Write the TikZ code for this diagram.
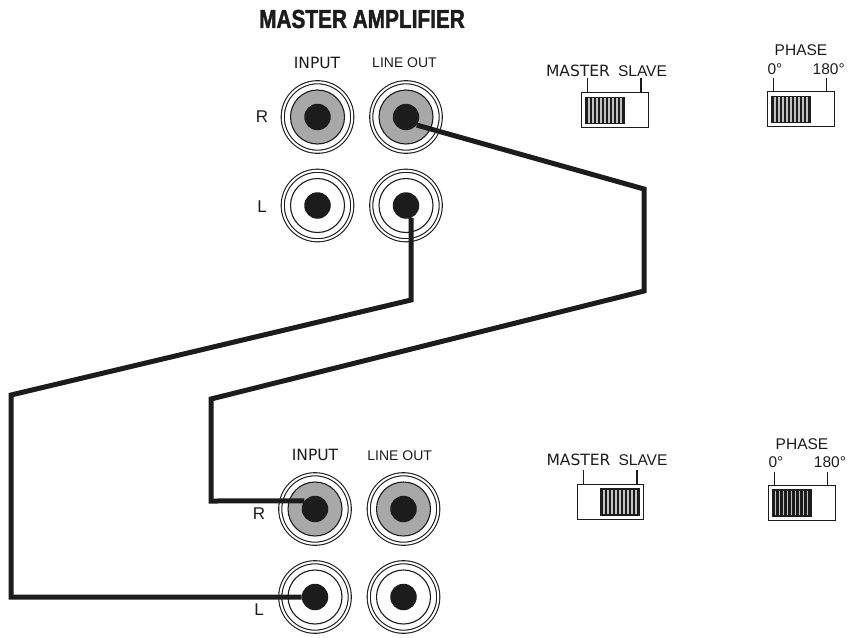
\documentclass[tikz,border=0pt]{standalone}
\usepackage{fontspec}
\setmainfont{Liberation Sans}
\newfontfamily\labelfont{DejaVu Sans}
\newfontfamily\titlefont[FakeStretch=0.8,FakeBold=1.5]{Liberation Sans}
\usetikzlibrary{positioning,calc}

\definecolor{jackgray}{gray}{0.66}
\definecolor{inkblack}{gray}{0.11}

\tikzset{
	jackouter/.style={draw=inkblack, circle, fill=white, line width=1.1pt, inner sep=0pt, minimum size=69.5pt, double=white, double distance=2pt},
	jackinner/.style={draw=inkblack, circle, fill=white, line width=1.1pt, inner sep=0pt, minimum size=54pt},
	jackgrey/.style={jackinner, fill=jackgray},
	jackhole/.style={circle, fill=inkblack, inner sep=0pt, minimum size=26.5pt},
	caseframe/.style={draw=inkblack, line width=0.8pt, minimum width=66.5pt, minimum height=35pt, inner sep=0pt},
	slider/.style={draw=inkblack, line width=1.6pt, fill=jackgray!70, minimum width=38.5pt, minimum height=26pt, inner sep=0pt,
		path picture={\foreach \i in {0,...,9} {
			\fill[inkblack] ($(path picture bounding box.south west)+(\i*4pt,0)$) rectangle +(2.1pt,27pt);
		}}},
	tick/.style={draw=inkblack, line width=1.1pt},
	wire/.style={draw=inkblack, line width=5pt, line join=miter},
	jacklabel/.style={text=inkblack, font=\labelfont\fontsize{15.5}{16}\selectfont, inner sep=0pt},
	slavelabel/.style={text=inkblack, font=\fontsize{15.5}{16}\selectfont, inner sep=0pt},
	outlabel/.style={text=inkblack, font=\fontsize{14}{16}\selectfont, inner sep=0pt},
	textlabel/.style={text=inkblack, font=\fontsize{15.5}{16}\selectfont, inner sep=0pt},
	sidelabel/.style={text=inkblack, font=\fontsize{17}{18}\selectfont, inner sep=0pt}
}

\begin{document}
\begin{tikzpicture}[x=1pt,y=-1pt]
	\useasboundingbox (0,0) rectangle (851,637);

	\node[text=inkblack, inner sep=0pt, font=\titlefont\bfseries\fontsize{26}{28}\selectfont] (title) at (362,19) {MASTER AMPLIFIER};

	% first amplifier
	\node[jacklabel] (minlabel) at (317,63) {INPUT};
	\node[outlabel] (moutlabel) at (404.5,63) {LINE OUT};
	\node[sidelabel] (mrlabel) at (262,117) {R};
	\node[sidelabel] (mllabel) at (262,207) {L};

	\node[jackouter] (mir) at (317.5,117) {};
	\node[jackgrey] at (mir.center) {};
	\node[jackhole] (mirhole) at (mir.center) {};
	\node[jackouter] (mor) at (406,117) {};
	\node[jackgrey] at (mor.center) {};
	\node[jackhole] (morhole) at (mor.center) {};
	\node[jackouter] (mil) at (317.5,205.5) {};
	\node[jackinner] at (mil.center) {};
	\node[jackhole] (milhole) at (mil.center) {};
	\node[jackouter] (mol) at (406,205.5) {};
	\node[jackinner] at (mol.center) {};
	\node[jackhole] (molhole) at (mol.center) {};

	% second amplifier
	\node[jacklabel] (sinlabel) at (315,455) {INPUT};
	\node[outlabel] (soutlabel) at (399.7,456) {LINE OUT};
	\node[sidelabel] (srlabel) at (259,514) {R};
	\node[sidelabel] (sllabel) at (259,610) {L};

	\node[jackouter] (sir) at (315,509) {};
	\node[jackgrey] at (sir.center) {};
	\node[jackhole] (sirhole) at (sir.center) {};
	\node[jackouter] (sor) at (403.5,509) {};
	\node[jackgrey] at (sor.center) {};
	\node[jackhole] (sorhole) at (sor.center) {};
	\node[jackouter] (sil) at (315,597) {};
	\node[jackinner] at (sil.center) {};
	\node[jackhole] (silhole) at (sil.center) {};
	\node[jackouter] (sol) at (403.5,597) {};
	\node[jackinner] at (sol.center) {};
	\node[jackhole] (solhole) at (sol.center) {};

	% switches
	\node[jacklabel] (mmaster) at (578,71) {MASTER};
	\node[slavelabel] (mslave) at (642.5,71) {SLAVE};
	\node[caseframe] (mcase) at (614.7,109.8) {};
	\node[slider] (mslider) at (605,110.3) {};
	\draw[tick] (587.7,78) -- (587.7,92);
	\draw[tick] (641,78) -- (641,92);

	\node[textlabel] (mphase) at (801,50) {PHASE};
	\node[textlabel] (mzero) at (775,69) {0°};
	\node[textlabel] (mhalf) at (828.7,69) {180°};
	\node[caseframe] (mpcase) at (800.7,109.2) {};
	\node[slider] (mpslider) at (790.8,109.6) {};
	\draw[tick] (773.3,78) -- (773.3,91.7);
	\draw[tick] (826.7,78) -- (826.7,91.7);

	\node[jacklabel] (smaster) at (578.5,460) {MASTER};
	\node[slavelabel] (sslave) at (643,460) {SLAVE};
	\node[caseframe] (scase) at (610.3,501.8) {};
	\node[slider] (sslider) at (620.3,501.8) {};
	\draw[tick] (583.7,470) -- (583.7,484.3);
	\draw[tick] (637,470) -- (637,484.3);

	\node[textlabel] (sphase) at (802,444) {PHASE};
	\node[textlabel] (szero) at (776,462) {0°};
	\node[textlabel] (shalf) at (830,462) {180°};
	\node[caseframe] (spcase) at (801.7,502.7) {};
	\node[slider] (spslider) at (791.7,503) {};
	\draw[tick] (774.3,471.7) -- (774.3,485.3);
	\draw[tick] (827.3,471.7) -- (827.3,485.3);

	% cables
	\draw[wire] (morhole.-37) -- (644,189) -- (644,291) -- (211,399) -- (211,501) -- (sirhole.143);
	\draw[wire] (molhole.-68) -- (411,300) -- (11,395) -- (11,597) -- (silhole.west);
\end{tikzpicture}
\end{document}
